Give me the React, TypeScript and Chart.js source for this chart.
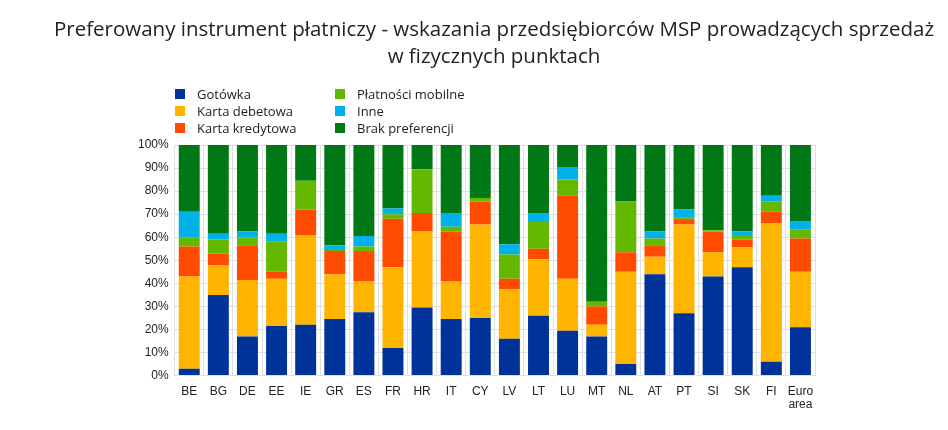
import React, { useEffect, useRef } from "react";
import { Chart, registerables } from "chart.js";
Chart.register(...registerables);

const categories = ["BE","BG","DE","EE","IE","GR","ES","FR","HR","IT","CY","LV","LT","LU","MT","NL","AT","PT","SI","SK","FI","Euro area"];
const gotowka = [3,35,17,21.5,22,24.5,27.5,12,29.5,24.5,25,16,26,19.5,17,5,44,27,43,47,6,21];
const debetowa = [40,13,24.5,20.5,39,19.5,13.5,35,33,16.5,40.5,21.5,24.5,22.5,5,40,7.5,38.5,10.5,8.5,60,24];
const kredytowa = [13,5,15,3,11,10,13,21,8,21.5,10,4.5,4.5,36,8,8.5,5,2,9,3.5,5,14.5];
const mobilne = [4,6,3.5,13,12.5,0.5,2,2,19,2,1.5,10.5,12,7,2,22,3,1,0.5,2,4.5,4];
const inne = [11,2.5,2.5,3.5,0,2,4.5,2.5,0,6,0,4.5,3.5,5.5,0,0,3,3.5,0,1.5,2.5,3.5];
const brak = [29,38.5,37.5,38.5,15.5,43.5,39.5,27.5,10.5,29.5,23,43,29.5,9.5,68,24.5,37.5,28,37,37.5,22,33];
const yTicks = [0,10,20,30,40,50,60,70,80,90,100];

const series = [
  { label: "Gotówka", data: gotowka, color: "#003399" },
  { label: "Karta debetowa", data: debetowa, color: "#FFB400" },
  { label: "Karta kredytowa", data: kredytowa, color: "#FF4B00" },
  { label: "Płatności mobilne", data: mobilne, color: "#65B800" },
  { label: "Inne", data: inne, color: "#00B1EA" },
  { label: "Brak preferencji", data: brak, color: "#007816" },
];
const legendPos = [[175, 93],[175, 110],[175, 127],[335, 93],[335, 110],[335, 127]];

export default function App() {
  const ref = useRef<HTMLCanvasElement>(null);
  useEffect(() => {
    document.body.style.margin = "0";
    const chart = new Chart(ref.current!, {
      type: "bar",
      data: {
        labels: categories.map(c => c === "Euro area" ? ["Euro", "area"] : c),
        datasets: series.map(s => ({ label: s.label, data: s.data, backgroundColor: s.color, barPercentage: 0.72, categoryPercentage: 1 })),
      },
      options: {
        animation: false,
        responsive: false,
        layout: { padding: { left: 132, right: 133, top: 145, bottom: 10 } },
        plugins: { legend: { display: false }, title: { display: false }, tooltip: { enabled: false } },
        scales: {
          x: {
            stacked: true,
            grid: { color: "#e0e0e0", offset: true, drawTicks: false },
            border: { color: "#e0e0e0" },
            ticks: { color: "#222", font: { family: "Arial, Liberation Sans", size: 12, lineHeight: 1.1 }, padding: 9, maxRotation: 0, minRotation: 0, autoSkip: false },
          },
          y: {
            stacked: true, min: 0, max: 100,
            afterBuildTicks: (ax: any) => { ax.ticks = yTicks.map(v => ({ value: v })); },
            grid: { color: "#e0e0e0", drawTicks: false },
            border: { display: false },
            ticks: { color: "#222", font: { family: "Arial, Liberation Sans", size: 12 }, padding: 6, callback: (v: any) => v + "%" },
          },
        },
      },
    });
    return () => chart.destroy();
  }, []);
  return (
    <div style={{ position: "relative", width: 948, height: 430, fontFamily: "'Open Sans', sans-serif", color: "#222" }}>
      <canvas ref={ref} width={948} height={430} style={{ position: "absolute", left: 0, top: 0 }} />
      <div style={{ position: "absolute", left: 0, width: 948, top: 15, textAlign: "center", fontSize: 20.5, lineHeight: "27px", paddingLeft: 20 }}>
        Preferowany instrument płatniczy - wskazania przedsiębiorców MSP prowadzących sprzedaż<br />w fizycznych punktach
      </div>
      {series.map((s, i) => (
        <div key={s.label} style={{ position: "absolute", left: legendPos[i][0], top: legendPos[i][1] - 8, fontSize: 13, display: "flex", alignItems: "center", whiteSpace: "nowrap" }}>
          <span style={{ width: 10, height: 10, background: s.color, display: "inline-block", marginRight: 12 }} />{s.label}
        </div>
      ))}
    </div>
  );
}
